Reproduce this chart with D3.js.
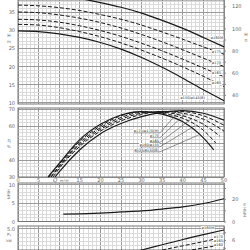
<!DOCTYPE html>
<meta charset="utf-8">
<head><title>Pump curves</title>
<style>
body { margin: 0; background: #fff; }
svg { display: block; }
.grid line { shape-rendering: crispEdges; }
text { font-family: "DejaVu Sans", sans-serif; fill: #666; }
.lbl text { fill: #333; }
</style>
</head>
<svg width="250" height="250"></svg>
<script src="https://cdn.jsdelivr.net/npm/d3@7/dist/d3.min.js"></script>
<script>

// ---- data ----
var flowTicks = [0, 5, 15, 20, 25, 30, 35, 40, 45, 50];

var headFlow = [0, 5, 10, 15, 20, 25, 30, 35, 40, 45, 50];
var head180 = [40.2, 40.0, 39.5, 38.7, 37.6, 36.3, 34.7, 32.7, 30.5, 28.0, 25.4];
var head175 = [36.9, 36.7, 36.2, 35.4, 34.3, 33.0, 31.4, 29.5, 27.5, 25.4, 23.4];
var head170 = [35.0, 34.8, 34.2, 33.3, 32.1, 30.6, 28.8, 26.8, 24.6, 22.3, 20.0];
var head165 = [33.0, 32.8, 32.2, 31.2, 29.9, 28.3, 26.4, 24.3, 22.0, 19.6, 17.2];
var head160 = [31.6, 31.4, 30.7, 29.6, 28.2, 26.5, 24.5, 22.3, 19.9, 17.3, 14.5];
var head155 = [29.8, 29.6, 29.0, 28.0, 26.6, 24.8, 22.5, 19.8, 16.8, 13.6, 10.6];
var headLabels = ["ø180M", "ø175", "ø170", "ø165", "ø160", "ø150/ø145(B)"];

var eff180 = [[9,30],[10,33],[15,46],[20,55.5],[25,61.5],[30,65.5],[35,68],[40,69],[45,67.5],[50,63.5]];
var eff175 = [[8.5,30],[10,35],[15,48],[20,57],[25,63],[30,66.8],[35,68.6],[40,68.5],[45,66],[50,60.5]];
var eff170 = [[8,30],[10,36],[15,49],[20,58],[25,64],[30,67.5],[35,68.5],[40,67.5],[45,64],[50,57]];
var eff165 = [[8,30],[10,36.5],[15,50],[20,59],[25,65],[30,68],[35,68],[40,66],[45,61],[49,54]];
var eff160 = [[7.5,30],[10,37.5],[15,51],[20,60],[25,66],[30,68.5],[35,67.5],[40,64.5],[45,57.5],[48,50]];
var eff155 = [[7.3,30],[10,38],[15,52],[20,61],[25,66.5],[30,68.5],[35,67],[40,62.5],[45,53],[47.5,46]];
var effLabels = ["ø175/ø170(M)", "ø170", "ø165", "ø160/ø155", "ø155/ø150(B)"];

var npshFlow = [11, 15, 20, 25, 30, 35, 40, 45, 50];
var npshReq = [2.0, 2.1, 2.3, 2.6, 2.9, 3.4, 4.0, 4.9, 6.2];

var powerFlow = [25, 30, 35, 40, 45, 50];
var power180 = [3.75, 4.0, 4.25, 4.5, 4.73, 4.95];
var power170 = [3.6, 3.8, 4.0, 4.2, 4.4, 4.62];
var power160 = [3.45, 3.6, 3.75, 3.93, 4.1, 4.26];
var powerLabels = ["ø180M", "ø170", "ø165", "ø160"];

// ---- layout ----
var svg = d3.select("svg");
var FT = 3.2808, HP = 1.341;

var x = d3.scaleLinear().domain([0, 50]).range([18, 224]);
var yH = d3.scaleLinear().domain([9.7, 38.3]).range([104, 0]);
var yEta = d3.scaleLinear().domain([30, 70.6]).range([177, 108]);
var yNpsh = d3.scaleLinear().domain([0, 10.5]).range([221.5, 183]);
var yP = d3.scaleLinear().domain([4, 5.14]).range([250, 226]);

function steps(lo, hi, step) {
  return d3.range(Math.ceil(lo / step - 1e-6), Math.floor(hi / step + 1e-6) + 1).map(function(k) { return k * step; });
}
function isMajor(v, m) { return Math.abs(v / m - Math.round(v / m)) < 1e-6; }

function drawPanel(y, minor, major) {
  var g = svg.append("g").attr("class", "grid");
  var r = y.range(), d = y.domain();
  var top = Math.min(r[0], r[1]), bot = Math.max(r[0], r[1]);
  g.selectAll("line.v").data(d3.range(0, 51)).enter().append("line")
    .attr("x1", x).attr("x2", x).attr("y1", top).attr("y2", bot)
    .attr("stroke", function(v) { return v % 5 == 0 ? "#9a9a9a" : "#dadada"; });
  g.selectAll("line.h").data(steps(d[0], d[1], minor)).enter().append("line")
    .attr("x1", x(0)).attr("x2", x(50)).attr("y1", y).attr("y2", y)
    .attr("stroke", function(v) { return isMajor(v, major) ? "#9a9a9a" : "#dadada"; });
  g.append("rect").attr("x", x(0)).attr("y", top).attr("width", x(50) - x(0)).attr("height", bot - top)
    .attr("fill", "none").attr("stroke", "#777");
}

function leftAxis(y, ticks) {
  var a = svg.append("g").attr("transform", "translate(" + x(0) + ",0)")
    .call(d3.axisLeft(y).tickValues(ticks).tickSize(0).tickPadding(3));
  a.select(".domain").remove();
  a.selectAll("text").style("font-size", "5px").attr("fill", "#666");
}
function rightAxis(y, ticks, minorTicks) {
  var a = svg.append("g").attr("transform", "translate(" + x(50) + ",0)")
    .call(d3.axisRight(y).tickValues(minorTicks).tickSize(2).tickFormat(function(v) { return ticks.indexOf(v) >= 0 ? v : ""; }).tickPadding(6));
  a.select(".domain").remove();
  a.selectAll("line").attr("stroke", "#888");
  a.selectAll("text").style("font-size", "5px").attr("fill", "#666");
}
function unit(px, py, s, size) {
  svg.append("text").attr("x", px).attr("y", py).attr("text-anchor", "middle")
    .style("font-size", (size || 4) + "px").text(s);
}

function curve(y, xs, ys, dashed, width) {
  var pts = xs.map(function(q, i) { return [q, ys[i]]; });
  svg.append("path").datum(pts)
    .attr("d", d3.line().x(function(d) { return x(d[0]); }).y(function(d) { return y(d[1]); }).curve(d3.curveMonotoneX))
    .attr("fill", "none").attr("stroke", "#1a1a1a").attr("stroke-width", width || 1)
    .attr("stroke-dasharray", dashed ? "4,2" : null);
}
function curvePairs(y, pairs, dashed, width) {
  curve(y, pairs.map(function(p) { return p[0]; }), pairs.map(function(p) { return p[1]; }), dashed, width);
}
function valueAt(pairs, q) {
  for (var i = 1; i < pairs.length; i++) {
    if (q <= pairs[i][0]) {
      var t = (q - pairs[i - 1][0]) / (pairs[i][0] - pairs[i - 1][0]);
      return pairs[i - 1][1] + t * (pairs[i][1] - pairs[i - 1][1]);
    }
  }
  return pairs[pairs.length - 1][1];
}
function tag(px, py, s, anchor) {
  var g = svg.append("g").attr("class", "lbl");
  var t = g.append("text").attr("x", px).attr("y", py).attr("text-anchor", anchor || "end")
    .style("font-size", "3.6px").text(s);
  var b = t.node().getBBox();
  g.insert("rect", "text").attr("x", b.x - 0.5).attr("y", b.y).attr("width", b.width + 1).attr("height", b.height)
    .attr("fill", "#fff");
  return b;
}

// ---- head panel ----
drawPanel(yH, 1, 5);
leftAxis(yH, [10, 15, 20, 25, 30, 35]);
var yHft = d3.scaleLinear().domain([yH.domain()[0] * FT, yH.domain()[1] * FT]).range(yH.range());
rightAxis(yHft, [40, 60, 80, 100, 120], steps(40, 120, 10));
unit(9, 37, "H", 4.5); unit(9, 42.5, "m", 4);
unit(246, 36, "H", 4.5); unit(246, 41.5, "ft", 4);

var heads = [head180, head175, head170, head165, head160, head155];
heads.forEach(function(h, i) {
  curve(yH, headFlow, h, i > 0 && i < 5, i == 0 || i == 5 ? 1.2 : 1);
});
var headTagPos = [[223, 39], [221, 52.5], [221, 63.5], [221, 74], [221, 84], [205, 99]];
headLabels.forEach(function(s, i) { tag(headTagPos[i][0], headTagPos[i][1], s); });

// ---- efficiency panel ----
drawPanel(yEta, 2, 10);
leftAxis(yEta, [30, 40, 60, 70]);
unit(9, 142, "η", 5); unit(9, 148, "%", 4);
var effs = [eff180, eff175, eff170, eff165, eff160, eff155];
effs.forEach(function(e, i) { curvePairs(yEta, e, i > 0 && i < 5, i == 0 || i == 5 ? 1.2 : 1); });
var effTagY = [132, 137, 141.5, 146, 151];
var effTarget = [39, 40.5, 42, 43, 44];
effLabels.forEach(function(s, i) {
  var b = tag(159, effTagY[i], s);
  var q = effTarget[i], ty = yEta(valueAt(effs[i + 1], q));
  svg.append("polyline")
    .attr("points", [[b.x, effTagY[i] + 0.8], [160, effTagY[i] + 0.8], [x(q), ty]].join(" "))
    .attr("fill", "none").attr("stroke", "#333").attr("stroke-width", 0.5);
});

// ---- flow axis labels ----
svg.append("g").selectAll("text").data(flowTicks).enter().append("text")
  .attr("x", x).attr("y", 182).attr("text-anchor", "middle")
  .style("font-size", "5px").text(function(d) { return d; });
svg.append("text").attr("x", x(8.5)).attr("y", 182).style("font-size", "5.5px").style("font-style", "italic").text("Q");
svg.append("text").attr("x", x(10.2)).attr("y", 182).style("font-size", "3.6px").text("m³/h");

// ---- NPSH panel ----
drawPanel(yNpsh, 1, 5);
leftAxis(yNpsh, [0, 5, 10]);
var yNft = d3.scaleLinear().domain([0, yNpsh.domain()[1] * FT]).range(yNpsh.range());
rightAxis(yNft, [0, 20], steps(0, 30, 10));
svg.append("text").attr("transform", "translate(10,194) rotate(-90)").attr("text-anchor", "middle")
  .style("font-size", "3.6px").text("NPSH");
svg.append("text").attr("transform", "translate(246,210) rotate(-90)").attr("text-anchor", "middle")
  .style("font-size", "3.6px").text("NPSH ft");
curve(yNpsh, npshFlow, npshReq, false, 1.2);

// ---- power panel ----
drawPanel(yP, 0.2, 1);
leftAxis(yP, [5]);
var yPhp = d3.scaleLinear().domain([yP.domain()[0] * HP, yP.domain()[1] * HP]).range(yP.range());
rightAxis(yPhp, [6], steps(5.4, 6.8, 0.5));
unit(9, 236, "P₂", 4); unit(9, 241.5, "kW", 3.6);
curve(yP, powerFlow, power180, false, 1.2);
curve(yP, powerFlow, power170, true, 1);
curve(yP, powerFlow, power160, true, 1);
var powerTagPos = [[214, 229], [223, 238], [223, 242], [223, 246]];
powerLabels.forEach(function(s, i) { tag(powerTagPos[i][0], powerTagPos[i][1], s); });

</script>
